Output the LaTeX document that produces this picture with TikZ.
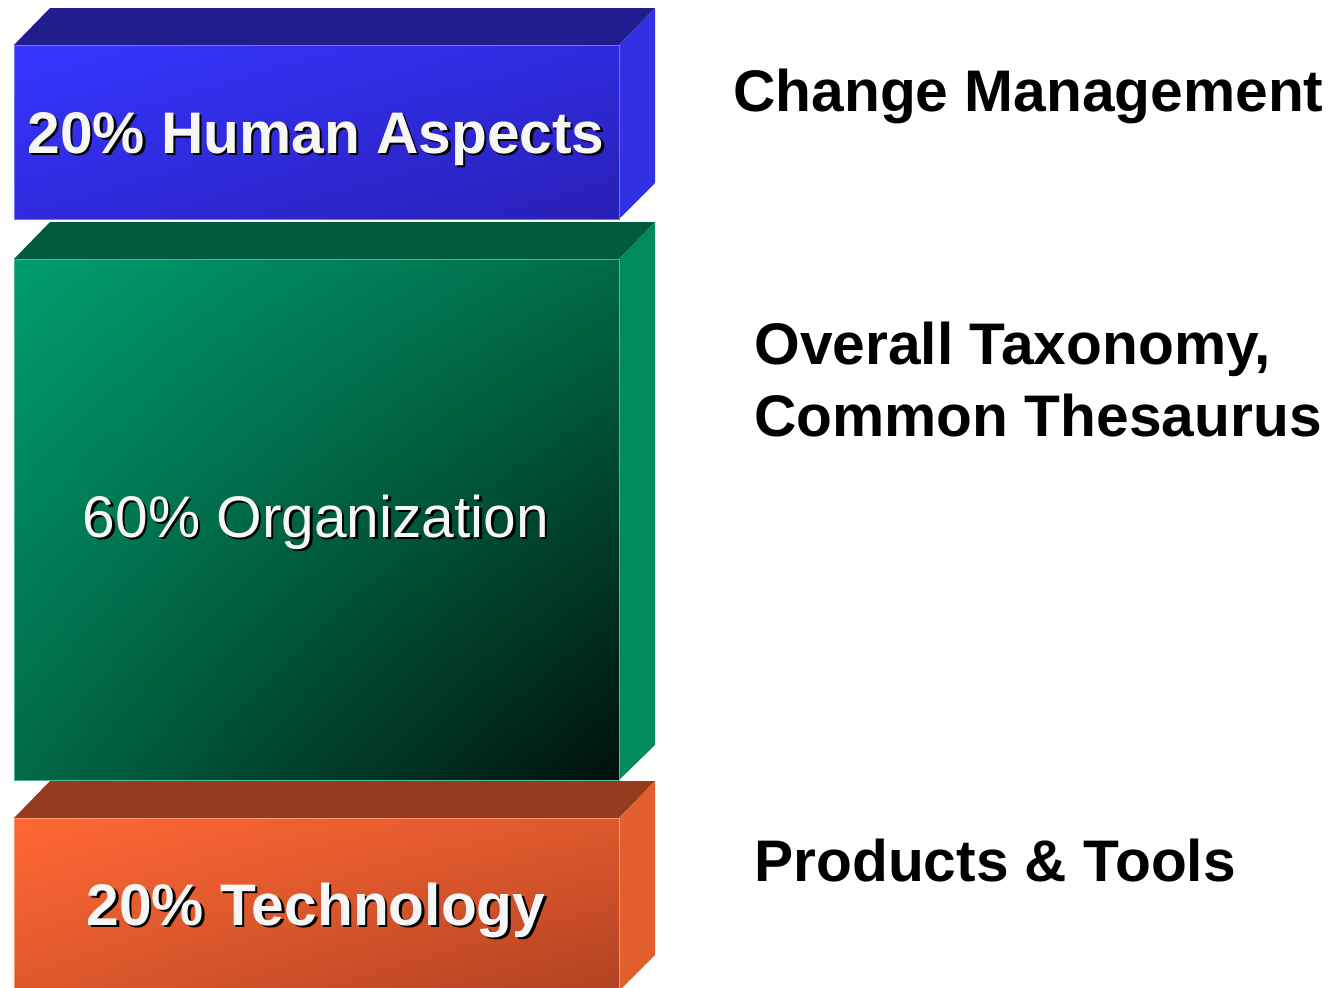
\documentclass[tikz,border=0pt]{standalone}
\usepackage{fontspec}
\setmainfont{Liberation Sans}
\usetikzlibrary{calc, shadings}
\definecolor{blueA}{RGB}{54,54,255}
\definecolor{blueB}{RGB}{47,42,222}
\definecolor{blueC}{RGB}{40,32,180}
\definecolor{bluetop}{RGB}{34,29,142}
\definecolor{blueside}{RGB}{50,48,228}
\definecolor{greenA}{RGB}{0,157,110}
\definecolor{greenB}{RGB}{0,106,72}
\definecolor{greenC}{RGB}{0,16,10}
\definecolor{greentop}{RGB}{0,92,61}
\definecolor{greenside}{RGB}{0,138,94}
\definecolor{orangeA}{RGB}{255,104,52}
\definecolor{orangeB}{RGB}{222,88,45}
\definecolor{orangeC}{RGB}{178,66,34}
\definecolor{orangetop}{RGB}{150,60,30}
\definecolor{orangeside}{RGB}{228,95,48}
\begin{document}
\begin{tikzpicture}[x=0.02cm,y=-0.02cm,
  edge/.style={draw=#1!70!white, line width=0.5pt},
  boxlabel/.style={anchor=base, inner sep=0pt, text=white!97!black,
    font=\fontsize{33.4}{40}\selectfont},
  boxshadow/.style={boxlabel, text=black},
  sidelabel/.style={anchor=base west, inner sep=0pt,
    font=\fontsize{33.4}{40}\selectfont\bfseries}]
\useasboundingbox (0,0) rectangle (1331,987);
% Human aspects
\fill[bluetop] (14,45) -- (50,8) -- (655,8) -- (619,45) -- cycle;
\fill[blueside] (619,45) -- (655,8) -- (655,183) -- (619,219) -- cycle;
\shade[upper left=blueA, upper right=blueB, lower left=blueB, lower right=blueC] (14,45) rectangle (619,219);
\draw[edge=blueA] (14,45) rectangle (619,219);
% Organization
\fill[greentop] (14,259) -- (50,222) -- (655,222) -- (619,259) -- cycle;
\fill[greenside] (619,259) -- (655,222) -- (655,745) -- (619,780) -- cycle;
\shade[upper left=greenA, upper right=greenB, lower left=greenB, lower right=greenC] (14,259) rectangle (619,780);
\draw[edge=greenA] (14,259) rectangle (619,780);
% Technology
\fill[orangetop] (14,818) -- (50,781) -- (655,781) -- (619,818) -- cycle;
\fill[orangeside] (619,818) -- (655,781) -- (655,955) -- (619,991) -- cycle;
\shade[upper left=orangeA, upper right=orangeB, lower left=orangeB, lower right=orangeC] (14,818) rectangle (619,990);
\draw[edge=orangeA] (14,818) rectangle (619,990);
% Texte in den Quadern
\node[boxshadow, font=\fontsize{33.4}{40}\selectfont\bfseries] (humanshadow) at (318.5,155.5) {20\% Human Aspects};
\node[boxlabel, font=\fontsize{33.4}{40}\selectfont\bfseries] (human) at (316,153) {20\% Human Aspects};
\node[boxshadow] (orgashadow) at (318.5,539.5) {60\% Organization};
\node[boxlabel] (orga) at (316,537) {60\% Organization};
\node[boxshadow, font=\fontsize{33.4}{40}\selectfont\bfseries] (techshadow) at (318.5,927.5) {20\% Technology};
\node[boxlabel, font=\fontsize{33.4}{40}\selectfont\bfseries] (tech) at (316,925) {20\% Technology};
% Texte rechts
\node[sidelabel] (change) at (733,111) {Change Management};
\node[sidelabel] (taxonomy) at (754,364) {Overall Taxonomy,};
\node[sidelabel] (thesaurus) at (754,436) {Common Thesaurus};
\node[sidelabel] (products) at (754,881) {Products \& Tools};
\end{tikzpicture}
\end{document}
